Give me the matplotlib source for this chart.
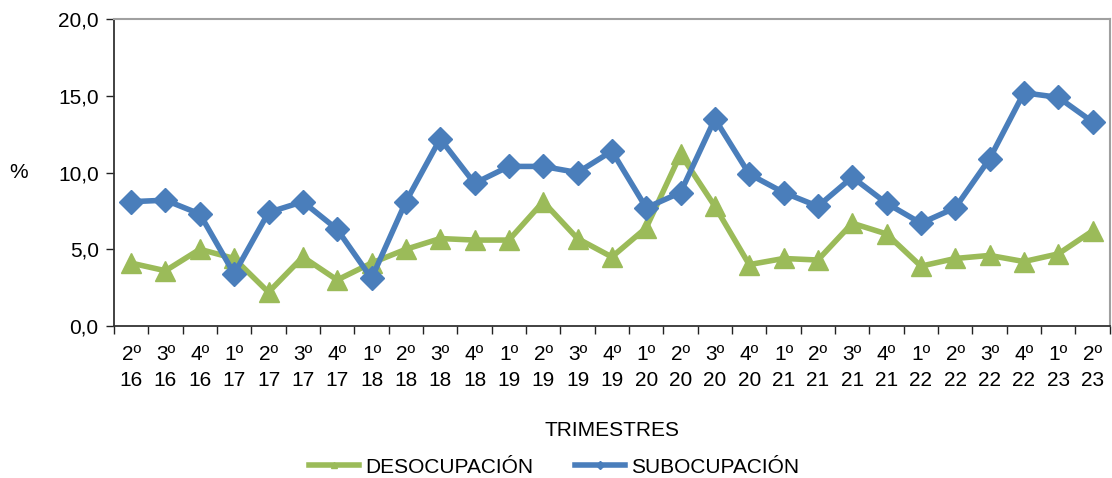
import matplotlib
matplotlib.use("Agg")
import matplotlib.pyplot as plt
import numpy as np

plt.rcParams['font.family'] = ['Liberation Sans', 'DejaVu Sans']

# datos
trimestres = ["2º", "3º", "4º", "1º", "2º", "3º", "4º", "1º", "2º", "3º", "4º",
              "1º", "2º", "3º", "4º", "1º", "2º", "3º", "4º", "1º", "2º", "3º",
              "4º", "1º", "2º", "3º", "4º", "1º", "2º"]
anios = ["16", "16", "16", "17", "17", "17", "17", "18", "18", "18", "18",
         "19", "19", "19", "19", "20", "20", "20", "20", "21", "21", "21",
         "21", "22", "22", "22", "22", "23", "23"]
desocupacion = [4.1, 3.6, 5.0, 4.4, 2.2, 4.5, 3.0, 4.1, 5.0, 5.7, 5.6,
                5.6, 8.1, 5.7, 4.5, 6.4, 11.2, 7.8, 4.0, 4.4, 4.3, 6.7,
                6.0, 3.9, 4.4, 4.6, 4.2, 4.7, 6.2]
subocupacion = [8.1, 8.2, 7.3, 3.4, 7.4, 8.1, 6.3, 3.1, 8.1, 12.2, 9.3,
                10.4, 10.4, 10.0, 11.4, 7.7, 8.7, 13.5, 9.9, 8.7, 7.8, 9.7,
                8.0, 6.7, 7.7, 10.9, 15.2, 14.9, 13.3]

etiquetas = [t + "\n" + a for t, a in zip(trimestres, anios)]
x = np.arange(len(etiquetas))

fs = 15

fig = plt.figure(figsize=(11.12, 4.78), dpi=100)
ax = fig.add_subplot(1, 1, 1)
fig.subplots_adjust(left=0.1025, right=0.998, top=0.960, bottom=0.318)

verde = "#9BBB59"
azul = "#4A7EBB"

ax.plot(x, desocupacion, color=verde, lw=4, marker="^", ms=14,
        label="DESOCUPACIÓN")
ax.plot(x, subocupacion, color=azul, lw=4, marker="D", ms=12,
        label="SUBOCUPACIÓN")

# ejes
ax.set_xlim(-0.5, len(x) - 0.5)
ax.set_ylim(0, 20)
ax.set_yticks([0, 5, 10, 15, 20])
ax.set_yticklabels(["0,0", "5,0", "10,0", "15,0", "20,0"], fontsize=fs)
ax.set_xticks(x)
ax.set_xticklabels(etiquetas, fontsize=fs, linespacing=1.45)
ax.set_xticks(np.arange(-0.5, len(x), 1), minor=True)
ax.tick_params(axis="x", which="major", length=0, pad=14)
ax.tick_params(axis="x", which="minor", length=6, width=1, color="#222222")
ax.tick_params(axis="y", length=6, width=1, color="#222222", pad=5)

for s in ["top", "right"]:
    ax.spines[s].set_color("#A0A0A0")
    ax.spines[s].set_linewidth(1.5)
for s in ["left", "bottom"]:
    ax.spines[s].set_color("#333333")
    ax.spines[s].set_linewidth(1.3)

ax.set_xlabel("TRIMESTRES", fontsize=fs, va="center")
ax.xaxis.set_label_coords(0.5, -0.339)
ax.set_ylabel("%", fontsize=fs, rotation=0, va="center", ha="center")
ax.yaxis.set_label_coords(-0.096, 0.5)

fig.legend(*ax.get_legend_handles_labels(), loc="center",
           bbox_to_anchor=(0.498, 0.023), ncol=2, frameon=False,
           fontsize=fs, handlelength=2.4, markerscale=0.35,
           columnspacing=2.0, handletextpad=0.3, borderpad=0)

plt.savefig("out.png", dpi=100)
